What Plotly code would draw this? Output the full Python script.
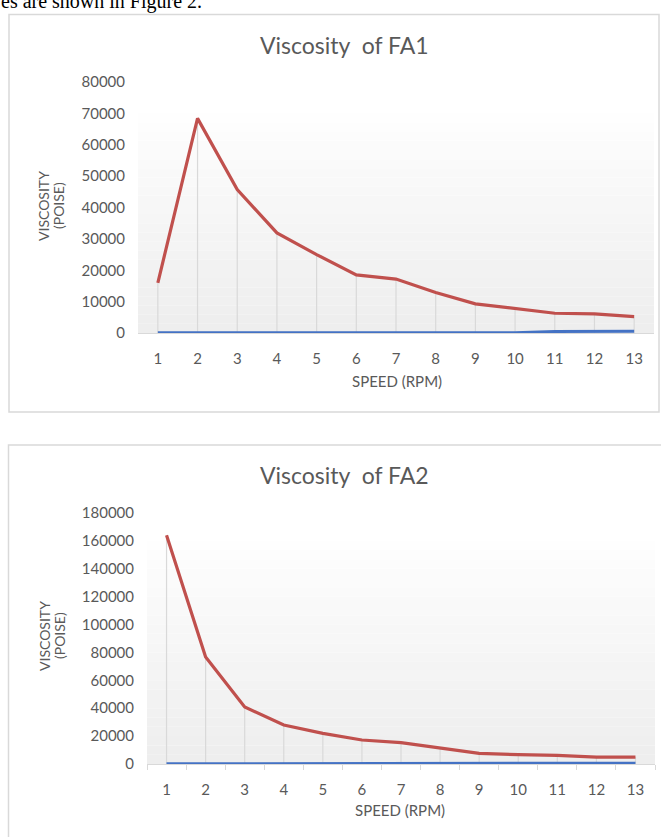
import plotly.graph_objects as go

# ---- data ----
speed = [1, 2, 3, 4, 5, 6, 7, 8, 9, 10, 11, 12, 13]
fa1_red = [16000, 68400, 45700, 31900, 25000, 18500, 17200, 12900, 9300, 7900, 6300, 6100, 5200]
fa1_blue = [60, 60, 60, 60, 60, 60, 60, 60, 60, 80, 500, 550, 550]
fa2_red = [164000, 76700, 40900, 28000, 22000, 17200, 15300, 11200, 7600, 6700, 6200, 5000, 5000]
fa2_blue = [100, 100, 100, 100, 100, 100, 100, 100, 100, 100, 200, 500, 600]
fa1_yticks = [0, 10000, 20000, 30000, 40000, 50000, 60000, 70000, 80000]
fa2_yticks = [0, 20000, 40000, 60000, 80000, 100000, 120000, 140000, 160000, 180000]

W, H = 661, 837
def px(x): return x / W
def py(y): return 1 - y / H

RED = "#C0504D"
BLUE = "#4472C4"
GRID = "#d9d9d9"
TXT = "#595959"
FONT = "Lato"

fig = go.Figure()

def drops(xs, ys):
    dx, dy = [], []
    for x, y in zip(xs, ys):
        dx += [x, x, None]
        dy += [0, y, None]
    return dx, dy

for (red, blue, xa, ya) in [(fa1_red, fa1_blue, "x", "y"), (fa2_red, fa2_blue, "x2", "y2")]:
    dx, dy = drops(speed, red)
    fig.add_trace(go.Scatter(x=dx, y=dy, mode="lines", line=dict(color=GRID, width=1.2),
                             xaxis=xa, yaxis=ya, showlegend=False, hoverinfo="skip"))
    fig.add_trace(go.Scatter(x=speed, y=blue, mode="lines", line=dict(color=BLUE, width=3),
                             xaxis=xa, yaxis=ya, showlegend=False))
    fig.add_trace(go.Scatter(x=speed, y=red, mode="lines", line=dict(color=RED, width=3.2),
                             xaxis=xa, yaxis=ya, showlegend=False))

# gradient backgrounds (decorative)
shapes = []
N = 24
for (xr, yr, top) in [("x domain", "y domain", 7/8), ("x2 domain", "y2 domain", 8/9)]:
    for i in range(N):
        y0 = top * i / N
        y1 = top * (i + 1) / N
        t = i / (N - 1)
        g = int(0xee + (0xfe - 0xee) * t)
        col = f"rgb({g},{g},{g})"
        shapes.append(dict(type="rect", xref=xr, yref=yr, x0=0, x1=1, y0=y0, y1=y1,
                           fillcolor=col, line=dict(width=0), layer="below"))

# chart frames
shapes.append(dict(type="rect", xref="paper", yref="paper", x0=px(9), x1=px(659), y0=py(412), y1=py(14.5),
                   line=dict(color="#d9d9d9", width=1.5), fillcolor="rgba(0,0,0,0)", layer="below"))
shapes.append(dict(type="rect", xref="paper", yref="paper", x0=px(8.5), x1=px(675), y0=py(860), y1=py(445),
                   line=dict(color="#d9d9d9", width=1.5), fillcolor="rgba(0,0,0,0)", layer="below"))

axis_common = dict(showgrid=False, zeroline=False, automargin=False,
                   tickfont=dict(family=FONT, size=15, color=TXT))

fig.update_layout(
    template="none",
    width=W, height=H, margin=dict(l=0, r=0, t=0, b=0, pad=0, autoexpand=False),
    paper_bgcolor="white", plot_bgcolor="rgba(0,0,0,0)",
    shapes=shapes,
    xaxis=dict(domain=[px(138), px(654)], range=[0.5, 13.5], tickmode="array", tickvals=speed,
               ticktext=[str(s) for s in speed], showline=True, linecolor=GRID, linewidth=1,
               ticks="", ticklabelstandoff=12, anchor="y", **axis_common),
    yaxis=dict(domain=[py(333), py(82)], range=[0, 80000], tickmode="array", tickvals=fa1_yticks,
               ticktext=[str(v) for v in fa1_yticks], showline=False, ticks="",
               ticklabelstandoff=12, anchor="x", **axis_common),
    xaxis2=dict(domain=[px(147), px(655)], range=[0.5, 13.5], tickmode="array", tickvals=speed,
                ticktext=[str(s) for s in speed], showline=True, linecolor=GRID, linewidth=1,
                ticks="", ticklabelstandoff=12, anchor="y2",
                minor=dict(ticks="outside", tick0=0.5, dtick=1, ticklen=5, tickcolor=GRID, tickwidth=1),
                **axis_common),
    yaxis2=dict(domain=[py(764), py(513)], range=[0, 180000], tickmode="array", tickvals=fa2_yticks,
                ticktext=[str(v) for v in fa2_yticks], showline=False, ticks="",
                ticklabelstandoff=12, anchor="x2", **axis_common),
)

ann = []
ann.append(dict(text="es are shown in Figure 2.", xref="paper", yref="paper", x=px(-1), y=py(2),
                xanchor="left", yanchor="middle", showarrow=False,
                font=dict(family="Liberation Serif", size=20, color="black")))
for (title, cx, cy) in [("Viscosity&nbsp;&nbsp;of FA1", 344, 45), ("Viscosity&nbsp;&nbsp;of FA2", 344, 475)]:
    ann.append(dict(text=title, xref="paper", yref="paper", x=px(cx), y=py(cy), xanchor="center",
                    yanchor="middle", showarrow=False, font=dict(family=FONT, size=23, color=TXT)))
for (cx, cy) in [(397, 381), (400, 810)]:
    ann.append(dict(text="SPEED (RPM)", xref="paper", yref="paper", x=px(cx), y=py(cy), xanchor="center",
                    yanchor="middle", showarrow=False, font=dict(family=FONT, size=15, color=TXT)))
for cy in [206, 636]:
    for (txt, cx) in [("VISCOSITY", 44), ("(POISE)", 59)]:
        ann.append(dict(text=txt, xref="paper", yref="paper", x=px(cx), y=py(cy),
                        xanchor="center", yanchor="middle", showarrow=False, textangle=-90,
                        font=dict(family=FONT, size=14, color=TXT)))
fig.update_layout(annotations=ann)

fig.write_html("out.html", config={"displayModeBar": False},
               post_script="document.body.style.margin='0';document.body.style.overflow='hidden';")
